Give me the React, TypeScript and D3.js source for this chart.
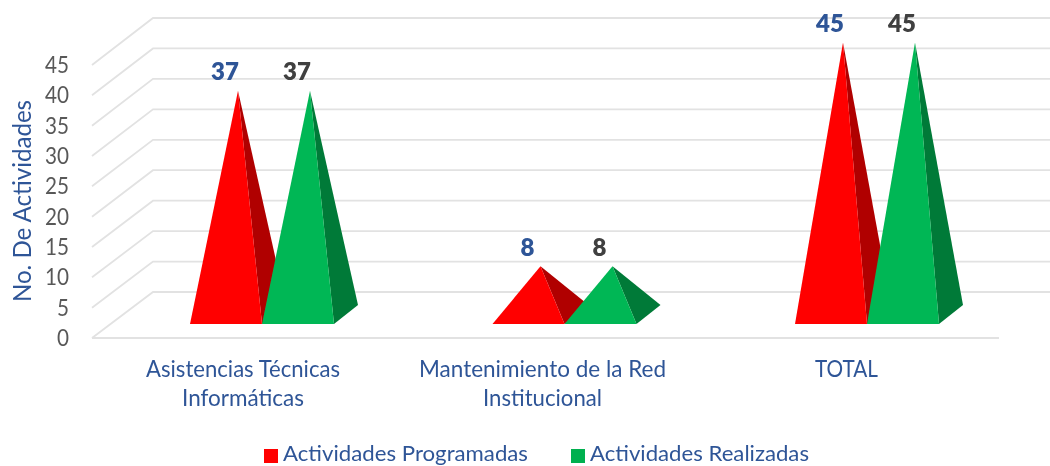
import React from "react";
import * as d3 from "d3";

const categories = [["Asistencias Técnicas", "Informáticas"], ["Mantenimiento de la Red", "Institucional"], ["TOTAL"]];
const programadas = [37, 8, 45];
const realizadas = [37, 8, 45];
const ticks = [0, 5, 10, 15, 20, 25, 30, 35, 40, 45];
const seriesNames = ["Actividades Programadas", "Actividades Realizadas"];
const categoryWidths = [[194, 122], [247, 119], [63]];
const categoryCentres = [243, 542.5, 846.5];

const FONT = "Lato, 'Open Sans', sans-serif";
const BLUE = "#2f5597";
const GREY = "#595959";

const yFront = d3.scaleLinear().domain([0, 45]).range([338, 65]);
const yBack = d3.scaleLinear().domain([0, 45]).range([292, 18]);
const yApex = d3.scaleLinear().domain([0, 45]).range([314.5, 42.5]);
const xCat = d3.scaleLinear().domain([0, 2]).range([262, 867]);
const W = 72, DX = 24, DY = 19, BASE = 324;

const poly = d3.line<[number, number]>();

function Pyramid({ x, v, fill, dark }: { x: number; v: number; fill: string; dark: string }) {
  const apex: [number, number] = [x + W / 2 + DX / 2, yApex(v)];
  return (
    <g>
      <path d={poly([[x + W, BASE], [x + W + DX, BASE - DY], apex])! + "Z"} fill={dark} />
      <path d={poly([[x, BASE], [x + W, BASE], apex])! + "Z"} fill={fill} />
    </g>
  );
}

export default function App() {
  const fit = { lengthAdjust: "spacingAndGlyphs" as const };
  return (
    <svg width={1050} height={466} style={{ position: "absolute", left: 0, top: 0, background: "#fff" }} fontFamily={FONT}>
      <defs>
        <filter id="soft" x="-5%" y="-5%" width="110%" height="110%">
          <feGaussianBlur stdDeviation="0.55" />
        </filter>
      </defs>
      <g filter="url(#soft)">
        {ticks.map((t) => (
          <g key={t}>
            <path
              d={poly([[92, yFront(t)], [153, yBack(t)], [1050, yBack(t)]])!}
              fill="none"
              stroke="#e2e2e2"
              strokeWidth={1.8}
            />
            <text x={69} y={yFront(t) + 8} textAnchor="end" fontSize={23} fill={GREY} textLength={t <= 5 ? 12 : 24} {...fit}>{t}</text>
          </g>
        ))}
        <path d={poly([[92, 338], [999, 338]])!} stroke="#e2e2e2" strokeWidth={1.8} fill="none" />
        {categories.map((_, i) => (
          <g key={i}>
            <Pyramid x={xCat(i) - W} v={programadas[i]} fill="#ff0000" dark="#b00000" />
            <Pyramid x={xCat(i)} v={realizadas[i]} fill="#05b754" dark="#007a37" />
            <text x={xCat(i) - 37} y={yApex(programadas[i]) - 10.5} textAnchor="middle" fontSize={24} fontWeight={800} fill={BLUE}>{programadas[i]}</text>
            <text x={xCat(i) + 35} y={yApex(realizadas[i]) - 10.5} textAnchor="middle" fontSize={24} fontWeight={800} fill="#404040">{realizadas[i]}</text>
            {categories[i].map((line, j) => (
              <text key={j} x={categoryCentres[i]} y={376.5 + j * 29} textAnchor="middle" fontSize={22.5} fill={BLUE} textLength={categoryWidths[i][j]} {...fit}>{line}</text>
            ))}
          </g>
        ))}
        <text transform="translate(30.5,201) rotate(-90)" textAnchor="middle" fontSize={25} fill={BLUE} textLength={202} {...fit}>No. De Actividades</text>
        <rect x={264} y={449} width={14} height={14} fill="#ff0000" />
        <text x={283} y={461} fontSize={21} fill={BLUE} textLength={245} {...fit}>{seriesNames[0]}</text>
        <rect x={571} y={449} width={14} height={14} fill="#00b050" />
        <text x={590} y={461} fontSize={21} fill={BLUE} textLength={219} {...fit}>{seriesNames[1]}</text>
      </g>
    </svg>
  );
}
